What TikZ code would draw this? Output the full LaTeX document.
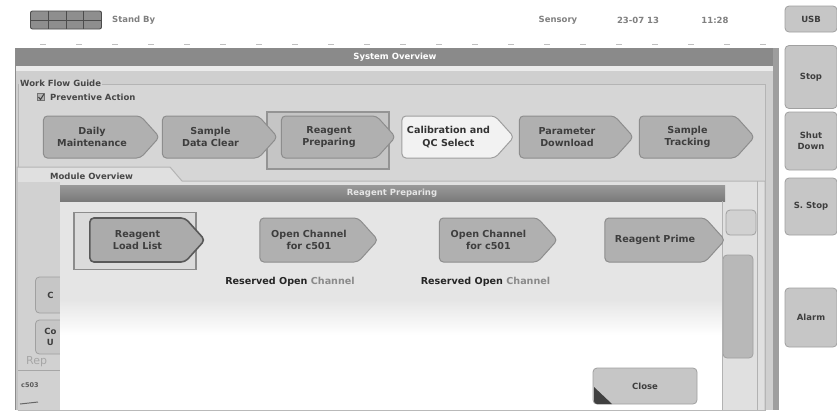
\documentclass[tikz,border=0pt]{standalone}
\usepackage{fontspec}
\setmainfont{DejaVu Sans}
\usetikzlibrary{shapes.symbols}
\definecolor{stepfill}{HTML}{B0B0B0}
\definecolor{stepdraw}{HTML}{8D8D8D}
\definecolor{steptext}{HTML}{3E3E3E}
\definecolor{titlebar}{HTML}{8A8A8A}
\definecolor{winbody}{HTML}{CFCFCF}
\definecolor{panelfill}{HTML}{D6D6D6}
\definecolor{panelline}{HTML}{B4B4B4}
\definecolor{btnfill}{HTML}{C6C6C6}
\definecolor{btndraw}{HTML}{A0A0A0}
\definecolor{lighttext}{HTML}{8A8A8A}
\definecolor{iconfill}{HTML}{8E8E8E}
\newcommand{\stepfont}{\bfseries\fontsize{9.6}{12.5}\selectfont}
\newcommand{\smallfont}{\bfseries\fontsize{8.5}{10.5}\selectfont}
\begin{document}
\begin{tikzpicture}[x=1pt,y=-1pt,
  stepnode/.style={signal, signal to=east, signal pointer angle=96,
    rounded corners=4pt, fill=stepfill, draw=stepdraw, line width=1pt,
    minimum height=42pt, text=steptext, font=\stepfont, align=center, inner sep=0pt},
  framebox/.style={draw=#1, line width=1.6pt, fill=panelfill!92!black, inner sep=0pt},
  sidebtn/.style={rounded corners=4pt, fill=btnfill, draw=btndraw, line width=0.8pt,
    text=steptext, font=\smallfont, align=center, inner sep=0pt},
  txt/.style={text=steptext, font=\stepfont, inner sep=0pt},
  lbl/.style={text=#1, font=\smallfont, inner sep=0pt},
]
\useasboundingbox (0,0) rectangle (837,410);
\fill[white] (0,0) rectangle (837,410);

% ---------- top status bar ----------
\node[fill=iconfill, draw=black!70, line width=0.9pt, rounded corners=2pt, minimum width=71pt, minimum height=18pt, inner sep=0pt] (status) at (66,20) {};
\draw[iconfill, line width=7.5pt] (32,15.5) -- (100,15.5) (32,24.5) -- (100,24.5);
\path[draw=black!70, line width=0.9pt] (48.5,11) -- (48.5,29) (66,11) -- (66,29) (83.5,11) -- (83.5,29) (31,20) -- (101,20);
\node[lbl=black!50, anchor=west] (standby) at (112,20) {Stand By};
\node[lbl=black!50] (sensory) at (558,20) {Sensory};
\node[lbl=black!50] (date) at (638,20) {23-07 13};
\node[lbl=black!50] (time) at (715,20) {11:28};
\draw[black!25, line width=0.6pt, dash pattern=on 6pt off 30pt] (40,44) -- (770,44);

% ---------- right side buttons ----------
\node[sidebtn, minimum width=52pt, minimum height=26pt] (usb) at (811,19) {USB};
\node[sidebtn, minimum width=52pt, minimum height=63pt] (stop) at (811,77) {Stop};
\node[sidebtn, minimum width=52pt, minimum height=58pt] (shut) at (811,141) {Shut\\Down};
\node[sidebtn, minimum width=52pt, minimum height=57pt] (sstop) at (811,206.5) {S. Stop};
\node[sidebtn, minimum width=52pt, minimum height=59pt] (alarm) at (811,317.5) {Alarm};

% ---------- System Overview window ----------
\fill[winbody] (15,48) rectangle (773,410);
\fill[black!38] (773,48) rectangle (779,410);
\fill[titlebar] (15,48) rectangle (773,66);
\fill[black!8] (15,66) rectangle (773,71);
\node[lbl=white] (systitle) at (395,57) {System Overview};
\draw[black!45, line width=1pt] (15,48) -- (15,410);
% work flow guide panel
\draw[panelline, line width=1pt, fill=panelfill] (18,84) rectangle (765,410);
\node[lbl=black!72, anchor=west, fill=panelfill, inner xsep=1pt] (wfg) at (19,83) {Work Flow Guide};
\node[draw=black!55, fill=black!30, minimum size=7pt, inner sep=0pt] (chk) at (41,97) {};
\draw[black!75, line width=1pt] (38.5,97) -- (40.5,99.5) -- (44,94);
\node[lbl=black!72, anchor=west] (prev) at (50,97) {Preventive Action};

% workflow steps
\node[framebox=black!42, minimum width=122pt, minimum height=57pt] (fr1) at (328,140.5) {};
\node[stepnode, minimum width=116pt] (s1) at (92,137) {Daily\\Maintenance};
\node[stepnode, minimum width=115pt] (s2) at (210.5,137) {Sample\\Data Clear};
\node[stepnode, minimum width=114pt] (s3) at (329,137) {Reagent\\Preparing};
\node[stepnode, minimum width=112pt, fill=black!5, draw=black!38, text=black!80] (s4) at (448.5,137) {Calibration and\\QC Select};
\node[stepnode, minimum width=114pt] (s5) at (567,137) {Parameter\\Download};
\node[stepnode, minimum width=115pt] (s6) at (687.5,137) {Sample\\Tracking};

% module overview panel
\fill[black!12] (17,167) -- (170,167) -- (182,181) -- (765,181) -- (765,410) -- (17,410) -- cycle;
\draw[panelline, line width=1pt] (17,410) -- (17,167) -- (170,167) -- (182,181) -- (765,181) -- (765,410);
\node[lbl=black!72, anchor=west] (modov) at (50,176) {Module Overview};
\fill[black!18] (18,182) rectangle (60,410);
\node[sidebtn, minimum width=30pt, minimum height=36pt, anchor=west] (mb1) at (35,295) {C};
\node[sidebtn, minimum width=30pt, minimum height=34pt, anchor=west] (mb2) at (35,337) {Co\\U};
\node[text=black!35, font=\fontsize{11}{12}\selectfont, anchor=west, inner sep=0pt] (rep) at (26,362) {Rep};
\draw[black!35, line width=0.5pt] (18,370) -- (60,370);
\node[lbl=black!65, anchor=west, font=\bfseries\fontsize{6.5}{8}\selectfont] (c503) at (21,385) {c503};
\draw[black!60, line width=1pt] (20,404) -- (38,402);
\node[sidebtn, minimum width=30pt, minimum height=25pt, fill=black!18] (rb1) at (741,222.5) {};
\node[sidebtn, minimum width=30pt, minimum height=103pt, fill=black!28] (rb2) at (738,306.5) {};
\draw[black!30, line width=0.6pt] (757,181) -- (757,410);

% ---------- Reagent Preparing popup ----------
\fill[black!10] (60,201) rectangle (722,300);
\shade[top color=black!10, bottom color=white] (60,300) rectangle (722,335);
\fill[white] (60,335) rectangle (722,410);
\shade[top color=black!40, bottom color=black!52] (60,185) rectangle (725,201);
\node[lbl=black!10] (poptitle) at (392,193) {Reagent Preparing};
\draw[black!30, line width=0.8pt] (722,201) -- (722,410);

\node[framebox=black!45, minimum width=122pt, minimum height=57pt, fill=black!14] (fr2) at (135,241) {};
\node[stepnode, minimum width=115pt, minimum height=44pt, draw=black!65, line width=1.6pt, fill=black!33] (p1) at (137.5,240) {Reagent\\Load List};
\node[stepnode, minimum width=118pt, minimum height=44pt] (p2) at (309,240) {Open Channel\\for c501};
\node[stepnode, minimum width=118pt, minimum height=44pt] (p3) at (488.5,240) {Open Channel\\for c501};
\node[stepnode, minimum width=120pt, minimum height=44pt] (p4) at (655,240) {Reagent Prime};
\node[txt, text=black!85] (r1) at (290,282) {Reserved Open \textcolor{lighttext}{Channel}};
\node[txt, text=black!85] (r2) at (485.5,282) {Reserved Open \textcolor{lighttext}{Channel}};

\node[sidebtn, minimum width=104pt, minimum height=36pt] (close) at (645,386) {Close};
\fill[black!75] (594,387) -- (612,404) -- (597,404) to[out=180,in=-90] (594,401) -- cycle;
\end{tikzpicture}
\end{document}
